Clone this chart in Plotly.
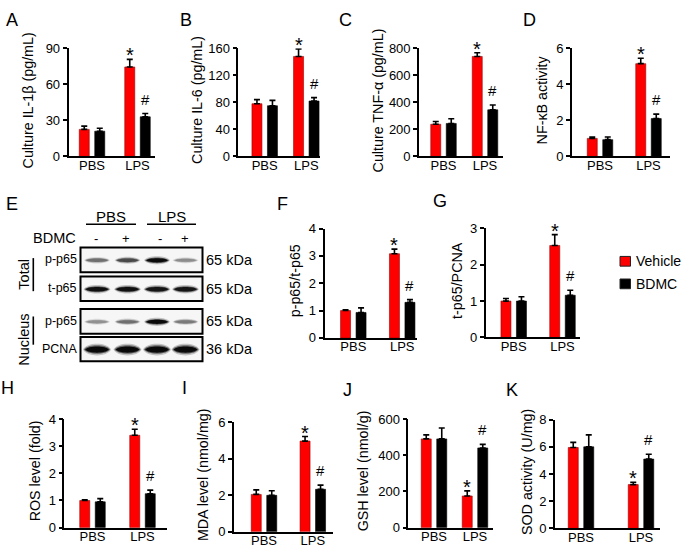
import plotly.graph_objects as go

W, H = 685, 560

# ---------------- data ----------------
groups = ["PBS", "LPS"]
series_names = ["Vehicle", "BDMC"]
series_colors = ["#ff0000", "#000000"]
vehicle_marks = ["", "*"]
bdmc_marks = ["", "#"]

# A  IL-1beta
il1b_vehicle = [22.5, 74.5]
il1b_vehicle_err = [2.7, 6.3]
il1b_bdmc = [21.0, 33.0]
il1b_bdmc_err = [2.5, 2.7]
# B  IL-6
il6_vehicle = [78, 148]
il6_vehicle_err = [6, 11]
il6_bdmc = [75, 82]
il6_bdmc_err = [8, 5]
# C  TNF-alpha
tnf_vehicle = [238, 740]
tnf_vehicle_err = [20, 28]
tnf_bdmc = [244, 345]
tnf_bdmc_err = [35, 35]
# D  NF-kB activity
nfkb_vehicle = [1.0, 5.15]
nfkb_vehicle_err = [0.07, 0.3]
nfkb_bdmc = [0.93, 2.1]
nfkb_bdmc_err = [0.15, 0.25]
# F  p-p65/t-p65
pp65_vehicle = [1.0, 3.08]
pp65_vehicle_err = [0.03, 0.17]
pp65_bdmc = [0.93, 1.3]
pp65_bdmc_err = [0.17, 0.1]
# G  t-p65/PCNA
tp65_vehicle = [1.0, 2.53]
tp65_vehicle_err = [0.07, 0.3]
tp65_bdmc = [1.0, 1.16]
tp65_bdmc_err = [0.12, 0.14]
# H  ROS
ros_vehicle = [1.0, 3.4]
ros_vehicle_err = [0.03, 0.22]
ros_bdmc = [0.95, 1.25]
ros_bdmc_err = [0.12, 0.13]
# I  MDA
mda_vehicle = [2.05, 4.97]
mda_vehicle_err = [0.25, 0.25]
mda_bdmc = [2.0, 2.33]
mda_bdmc_err = [0.25, 0.23]
# J  GSH
gsh_vehicle = [490, 175]
gsh_vehicle_err = [22, 28]
gsh_bdmc = [490, 440]
gsh_bdmc_err = [60, 20]
# K  SOD
sod_vehicle = [5.95, 3.22]
sod_vehicle_err = [0.38, 0.17]
sod_bdmc = [6.0, 5.1]
sod_bdmc_err = [0.88, 0.35]

# Western blot (panel E)
blot_rows = ["p-p65", "t-p65", "p-p65", "PCNA"]
blot_kda = ["65 kDa", "65 kDa", "65 kDa", "36 kDa"]
blot_sections = ["Total", "Nucleus"]
bdmc_signs = ["-", "+", "-", "+"]
band_intensity = [
    [0.55, 0.72, 1.0, 0.42],
    [0.97, 0.97, 0.95, 0.95],
    [0.40, 0.55, 1.0, 0.50],
    [1.0, 1.0, 1.0, 1.0],
]

# ---------------- layout helpers ----------------
FONT = "Liberation Sans, Arial, sans-serif"


def X(px):
    return px / W


def Y(py):
    return 1 - py / H


fig = go.Figure()
annotations = []
shapes = []

R1T, R1B = 42.5, 153.5
# panel geometry (pixels): yaxis x, xaxis end, y of top tick, y of zero, group centres,
# y-title x centre, panel letter centre
panels = [
    dict(letter="A", v=il1b_vehicle, ve=il1b_vehicle_err, b=il1b_bdmc, be=il1b_bdmc_err,
         ymax=90, dtick=30, title="Culture IL-1β (pg/mL)",
         x0=68.5, x1=155, yt=R1T, yb=R1B, c0=92, c1=137.5, tx=28, lx=12, ly=13),
    dict(letter="B", v=il6_vehicle, ve=il6_vehicle_err, b=il6_bdmc, be=il6_bdmc_err,
         ymax=160, dtick=40, title="Culture IL-6 (pg/mL)",
         x0=238.3, x1=320, yt=R1T, yb=R1B, c0=264.7, c1=306.3, tx=197.5, lx=186, ly=13),
    dict(letter="C", v=tnf_vehicle, ve=tnf_vehicle_err, b=tnf_bdmc, be=tnf_bdmc_err,
         ymax=800, dtick=200, title="Culture TNF-α (pg/mL)",
         x0=419, x1=503, yt=R1T, yb=R1B, c0=443.5, c1=485, tx=378, lx=345, ly=13),
    dict(letter="D", v=nfkb_vehicle, ve=nfkb_vehicle_err, b=nfkb_bdmc, be=nfkb_bdmc_err,
         ymax=6, dtick=2, title="NF-κB activity",
         x0=572, x1=670, yt=R1T, yb=R1B, c0=600, c1=648.5, tx=542, lx=529, ly=13),
    dict(letter="F", v=pp65_vehicle, ve=pp65_vehicle_err, b=pp65_bdmc, be=pp65_bdmc_err,
         ymax=4, dtick=1, title="p-p65/t-p65",
         x0=324.5, x1=417, yt=227.7, yb=340, c0=353.3, c1=402.2, tx=295, lx=282, ly=202),
    dict(letter="G", v=tp65_vehicle, ve=tp65_vehicle_err, b=tp65_bdmc, be=tp65_bdmc_err,
         ymax=3, dtick=1, title="t-p65/PCNA",
         x0=485.7, x1=580, yt=227.5, yb=339.5, c0=513.7, c1=562.5, tx=457, lx=440, ly=199),
    dict(letter="H", v=ros_vehicle, ve=ros_vehicle_err, b=ros_bdmc, be=ros_bdmc_err,
         ymax=4, dtick=1, title="ROS level (fold)",
         x0=64.3, x1=167, yt=423.3, yb=535, c0=92.5, c1=142.5, tx=35, lx=8, ly=391),
    dict(letter="I", v=mda_vehicle, ve=mda_vehicle_err, b=mda_bdmc, be=mda_bdmc_err,
         ymax=6, dtick=2, title="MDA level (nmol/mg)",
         x0=234, x1=333, yt=426.7, yb=539.3, c0=264, c1=312.8, tx=203, lx=184.5, ly=391),
    dict(letter="J", v=gsh_vehicle, ve=gsh_vehicle_err, b=gsh_bdmc, be=gsh_bdmc_err,
         ymax=600, dtick=200, title="GSH level (nmol/g)",
         x0=408.3, x1=493, yt=423.3, yb=535, c0=434, c1=475, tx=363, lx=347, ly=394),
    dict(letter="K", v=sod_vehicle, ve=sod_vehicle_err, b=sod_bdmc, be=sod_bdmc_err,
         ymax=8, dtick=2, title="SOD activity (U/mg)",
         x0=555, x1=660, yt=424, yb=535.7, c0=581, c1=641, tx=527, lx=512, ly=394),
]

BAR_PX = 10.0
GAP_PX = 5.5
xs = list(range(len(groups)))

layout_axes = {}
for n, p in enumerate(panels, start=1):
    xa = "x" if n == 1 else f"x{n}"
    ya = "y" if n == 1 else f"y{n}"
    u = 1.0 / (p["c1"] - p["c0"])
    xr = [-(p["c0"] - p["x0"]) * u, 1 + (p["x1"] - p["c1"]) * u]
    bw = BAR_PX * u
    gap = GAP_PX * u
    offs = [-(gap / 2 + bw), gap / 2]
    series = [(p["v"], p["ve"], vehicle_marks, 20, -9), (p["b"], p["be"], bdmc_marks, 15, 4)]
    for k, (vals, errs, marks, fs, ysh) in enumerate(series):
        fig.add_trace(go.Bar(
            x=xs, y=vals, name=series_names[k], xaxis=xa, yaxis=ya,
            width=bw, offset=offs[k],
            marker=dict(color=series_colors[k],
                        line=dict(color="#990000" if k == 0 else "#000000", width=0.6)),
            error_y=dict(type="data", array=errs, arrayminus=[0] * len(errs), symmetric=False,
                         color="black", thickness=1.6, width=3),
            showlegend=False, hoverinfo="skip",
        ))
        for i, m in enumerate(marks):
            if m:
                annotations.append(dict(
                    x=xs[i] + offs[k] + bw / 2, y=vals[i] + errs[i], xref=xa, yref=ya,
                    text=m, showarrow=False, xanchor="center", yanchor="bottom", yshift=ysh,
                    font=dict(family=FONT, size=fs, color="black")))
    key_x = "xaxis" if n == 1 else f"xaxis{n}"
    key_y = "yaxis" if n == 1 else f"yaxis{n}"
    layout_axes[key_x] = dict(
        domain=[X(p["x0"]), X(p["x1"])], anchor=ya, range=xr,
        tickvals=xs, ticktext=groups, ticks="", showline=True, linecolor="black",
        linewidth=1.6, showgrid=False, zeroline=False, ticklabelstandoff=-4,
        tickfont=dict(family=FONT, size=13, color="black"), fixedrange=True)
    layout_axes[key_y] = dict(
        domain=[Y(p["yb"]), Y(p["yt"])], anchor=xa, range=[0, p["ymax"]],
        dtick=p["dtick"], tick0=0, ticks="outside", ticklen=4, tickwidth=1.5,
        tickcolor="black", showline=True, linecolor="black", linewidth=1.6,
        showgrid=False, zeroline=False, ticklabelstandoff=0,
        tickfont=dict(family=FONT, size=13, color="black"), fixedrange=True)
    ty = (p["yt"] + p["yb"]) / 2 - 2
    annotations.append(dict(x=X(p["tx"]), y=Y(ty), xref="paper", yref="paper",
                            text=p["title"], textangle=-90, showarrow=False,
                            xanchor="center", yanchor="middle",
                            font=dict(family=FONT, size=14.3, color="black")))
    annotations.append(dict(x=X(p["lx"]), y=Y(p["ly"]), xref="paper", yref="paper",
                            text=p["letter"], showarrow=False, xanchor="center", yanchor="middle",
                            font=dict(family=FONT, size=18, color="black")))

# ---------------- legend (manual) ----------------
leg_y = [261.3, 284.5]
for k, name in enumerate(series_names):
    shapes.append(dict(type="rect", xref="paper", yref="paper",
                       x0=X(620), x1=X(630.5), y0=Y(leg_y[k] - 5), y1=Y(leg_y[k] + 5),
                       fillcolor=series_colors[k], line=dict(color="#222", width=1)))
    annotations.append(dict(x=X(633.5), y=Y(leg_y[k]), xref="paper", yref="paper", text=name,
                            showarrow=False, xanchor="left", yanchor="middle",
                            font=dict(family=FONT, size=14, color="black")))

# ---------------- Western blot (panel E) ----------------
annotations.append(dict(x=X(11.5), y=Y(202), xref="paper", yref="paper", text="E",
                        showarrow=False, xanchor="center", yanchor="middle",
                        font=dict(family=FONT, size=18, color="black")))
lane_x = [97, 127.5, 157, 185.5]
sign_x = [95.5, 125.5, 159.5, 185]
group_centres = [111, 171.5]
group_spans = [(86, 136), (147, 196)]
for g, name in enumerate(groups):
    annotations.append(dict(x=X(group_centres[g]), y=Y(215), xref="paper", yref="paper",
                            text=name, showarrow=False, xanchor="center", yanchor="middle",
                            font=dict(family=FONT, size=15, color="black")))
    shapes.append(dict(type="line", xref="paper", yref="paper",
                       x0=X(group_spans[g][0]), x1=X(group_spans[g][1]), y0=Y(223.3), y1=Y(223.3),
                       line=dict(color="black", width=1.4)))
annotations.append(dict(x=X(77.5), y=Y(237.5), xref="paper", yref="paper", text="BDMC",
                        showarrow=False, xanchor="right", yanchor="middle",
                        font=dict(family=FONT, size=14.5, color="black")))
for j, s in enumerate(bdmc_signs):
    annotations.append(dict(x=X(sign_x[j]), y=Y(237.5), xref="paper", yref="paper", text=s,
                            showarrow=False, xanchor="center", yanchor="middle",
                            font=dict(family=FONT, size=13, color="black")))

box_top = [247, 277, 310.3, 339]
box_bot = [272.5, 302, 335.7, 364]
band_base = [2.2, 2.3, 2.2, 3.2]
band_hw = [11.5, 12.0, 11.5, 12.5]
for r in range(len(blot_rows)):
    shapes.append(dict(type="rect", xref="paper", yref="paper",
                       x0=X(80.5), x1=X(202.5), y0=Y(box_bot[r]), y1=Y(box_top[r]),
                       fillcolor="#f6f6f6", line=dict(color="black", width=2)))
    cy = (box_top[r] + box_bot[r]) / 2 + 0.5
    for j, v in enumerate(band_intensity[r]):
        cx = lane_x[j]
        ht = band_base[r] * (0.55 + 0.45 * v)
        g = int(235 - 225 * v)
        for (sw, sh, op) in [(1.12, 1.9, 0.22), (1.04, 1.35, 0.5), (0.95, 1.0, 1.0)]:
            hw = band_hw[r] * sw
            hh = ht * sh
            k = hh * 4 / 3
            path = (f"M {X(cx - hw)},{Y(cy)} "
                    f"C {X(cx - hw * 0.75)},{Y(cy - k)} {X(cx + hw * 0.75)},{Y(cy - k)} {X(cx + hw)},{Y(cy)} "
                    f"C {X(cx + hw * 0.75)},{Y(cy + k)} {X(cx - hw * 0.75)},{Y(cy + k)} {X(cx - hw)},{Y(cy)} Z")
            shapes.append(dict(type="path", xref="paper", yref="paper", path=path,
                               fillcolor=f"rgb({g},{g},{g})", opacity=op, line=dict(width=0)))
    annotations.append(dict(x=X(78.5), y=Y(cy - 1), xref="paper", yref="paper", text=blot_rows[r],
                            showarrow=False, xanchor="right", yanchor="middle",
                            font=dict(family=FONT, size=12.5, color="black")))
    annotations.append(dict(x=X(203.5), y=Y(cy - 0.5), xref="paper", yref="paper", text=blot_kda[r],
                            showarrow=False, xanchor="left", yanchor="middle",
                            font=dict(family=FONT, size=14.5, color="black")))

section_centre = [275, 342]
section_lines = [(258, 292), (318, 347)]
for s, name in enumerate(blot_sections):
    annotations.append(dict(x=X(24), y=Y(section_centre[s]), xref="paper", yref="paper", text=name,
                            textangle=-90, showarrow=False, xanchor="center", yanchor="middle",
                            font=dict(family=FONT, size=14.5, color="black")))
    shapes.append(dict(type="line", xref="paper", yref="paper", x0=X(33.3), x1=X(33.3),
                       y0=Y(section_lines[s][0]), y1=Y(section_lines[s][1]),
                       line=dict(color="black", width=1.6)))

fig.update_layout(
    width=W, height=H, margin=dict(l=0, r=0, t=0, b=0),
    paper_bgcolor="white", plot_bgcolor="white",
    barmode="overlay", showlegend=False,
    annotations=annotations, shapes=shapes,
    font=dict(family=FONT, color="black"),
    **layout_axes,
)

fig.write_html("out.html", config={"displayModeBar": False},
               post_script="document.body.style.margin='0';document.body.style.overflow='hidden';")
